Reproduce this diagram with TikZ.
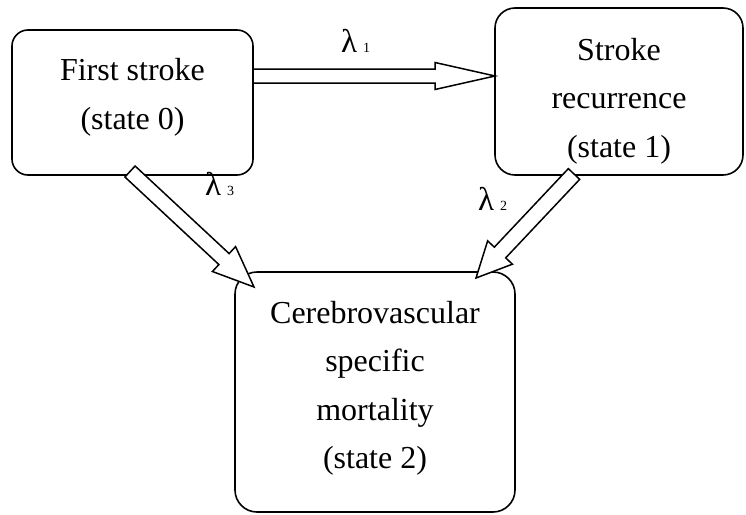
\documentclass[tikz,border=0pt]{standalone}
\usepackage{fontspec}
\setmainfont{Liberation Serif}
\usetikzlibrary{calc}
\newcommand{\blockarrow}[5]{% tail, tip, shaft half width, head half width, head length (pt)
  \pgfpointdiff{\pgfpointanchor{#1}{center}}{\pgfpointanchor{#2}{center}}%
  \pgfgetlastxy{\baX}{\baY}%
  \pgfmathsetmacro{\baLen}{veclen(\baX,\baY)}%
  \pgfmathsetmacro{\baAng}{atan2(\baY,\baX)}%
  \pgfmathsetmacro{\baNeck}{\baLen-#5}%
  \begin{scope}[shift={(#1)}, rotate=\baAng]
    \draw[arrowline] (0pt,-#3pt) -- (\baNeck pt,-#3pt) -- (\baNeck pt,-#4pt) -- (\baLen pt,0pt)
      -- (\baNeck pt,#4pt) -- (\baNeck pt,#3pt) -- (0pt,#3pt) -- cycle;
  \end{scope}%
}
\begin{document}
\begin{tikzpicture}[x=1pt,y=-1pt,
  statebox/.style={draw, line width=1.6pt, inner sep=0pt},
  boxtext/.style={inner sep=0pt, align=center, font=\fontsize{32}{48.5}\selectfont},
  arrowline/.style={draw, fill=white, line width=1.5pt, line join=miter},
  lab/.style={inner sep=0pt, anchor=base west, font=\fontsize{33}{33}\selectfont}]
\useasboundingbox (0,0) rectangle (746,514);
% boxes
\node[statebox, rounded corners=16pt, minimum width=241pt, minimum height=145pt] (A) at (132.5,102.5) {};
\node[statebox, rounded corners=20pt, minimum width=248pt, minimum height=167pt] (B) at (619,91.5) {};
\node[statebox, rounded corners=22pt, minimum width=280pt, minimum height=240pt] (C) at (375,392) {};
% texts
\node[boxtext] (At) at (132.5,97.5) {First stroke\\(state 0)};
\node[boxtext] (Bt) at (619,101) {Stroke\\recurrence\\(state 1)};
\node[boxtext] (Ct) at (375,388.5) {Cerebrovascular\\specific\\mortality\\(state 2)};
% arrow end points
\coordinate (t1) at (253,76);
\coordinate (h1) at (495,76);
\coordinate (t3) at (130,171.5);
\coordinate (h3) at (254,287);
\coordinate (t2) at (574,174);
\coordinate (h2) at (476,278);
\blockarrow{t1}{h1}{7}{13.5}{60}
\blockarrow{t3}{h3}{7.5}{17}{41}
\blockarrow{t2}{h2}{7.8}{17}{35}
% labels
\node[lab] (l1) at (341,52) {λ\hspace{6pt}{\fontsize{14}{14}\selectfont 1}};
\node[lab] (l3) at (205,195) {λ\hspace{6pt}{\fontsize{14}{14}\selectfont 3}};
\node[lab] (l2) at (478,210) {λ\hspace{6pt}{\fontsize{14}{14}\selectfont 2}};
\end{tikzpicture}
\end{document}
